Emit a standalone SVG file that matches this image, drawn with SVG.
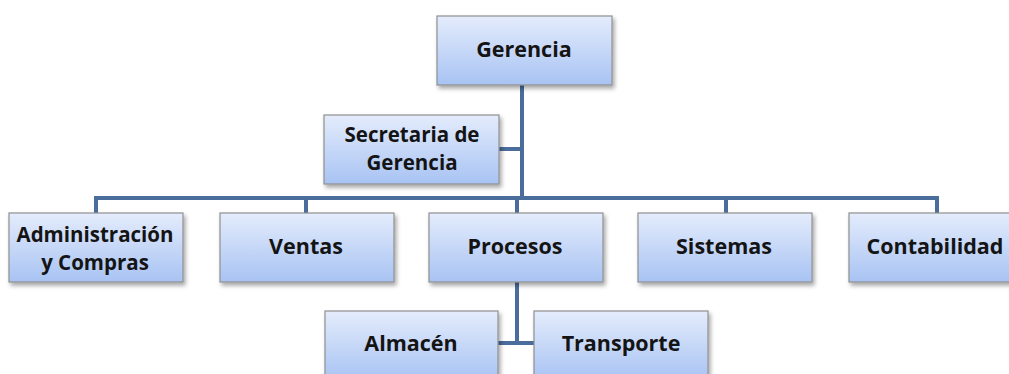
<svg xmlns="http://www.w3.org/2000/svg" width="1009" height="374" viewBox="0 0 1009 374">
<defs>
<linearGradient id="g" x1="0" y1="0" x2="0" y2="1">
<stop offset="0" stop-color="#e4ecfc"/>
<stop offset="1" stop-color="#a8c3f3"/>
</linearGradient>
<filter id="sh" x="-10%" y="-10%" width="130%" height="140%">
<feDropShadow dx="2" dy="3" stdDeviation="2" flood-color="#000" flood-opacity="0.35"/>
</filter>
</defs>
<style>
.box{fill:url(#g);stroke:#8f8f8f;stroke-width:1.2;filter:url(#sh)}
.t{font-family:"Open Sans","Noto Sans",sans-serif;font-weight:bold;font-size:21.5px;fill:#141414;text-anchor:middle}
.t2{font-size:20.5px}
.c{fill:none;stroke:#4a6d9c;stroke-width:4}
</style>
<rect width="1009" height="374" fill="#fff"/>
<g id="connectors">
<path class="c" d="M522 85 V198"/>
<path class="c" d="M499 149 H522"/>
<path class="c" d="M96 213 V198 H937 V213"/>
<path class="c" d="M306 198 V213"/>
<path class="c" d="M517 198 V213"/>
<path class="c" d="M726 198 V213"/>
<path class="c" d="M517 281 V343"/>
<path class="c" d="M498 343 H534"/>
</g>
<g id="gerencia"><rect class="box" x="437" y="16" width="175" height="69"/><text class="t" x="524" y="57">Gerencia</text></g>
<g id="secretaria"><rect class="box" x="324" y="115" width="175" height="69"/><text class="t t2" x="412" y="142">Secretaria de</text><text class="t t2" x="412" y="170">Gerencia</text></g>
<g id="administracion"><rect class="box" x="9" y="213" width="174" height="69"/><text class="t t2" x="95" y="242">Administración</text><text class="t t2" x="95" y="270">y Compras</text></g>
<g id="ventas"><rect class="box" x="220" y="213" width="174" height="69"/><text class="t" x="306" y="254">Ventas</text></g>
<g id="procesos"><rect class="box" x="429" y="213" width="174" height="69"/><text class="t" x="515" y="254">Procesos</text></g>
<g id="sistemas"><rect class="box" x="638" y="213" width="174" height="69"/><text class="t" x="724" y="254">Sistemas</text></g>
<g id="contabilidad"><rect class="box" x="849" y="213" width="174" height="69"/><text class="t" x="935" y="254">Contabilidad</text></g>
<g id="almacen"><rect class="box" x="325" y="311" width="173" height="69"/><text class="t" x="411" y="351">Almacén</text></g>
<g id="transporte"><rect class="box" x="534" y="311" width="174" height="69"/><text class="t" x="621" y="351">Transporte</text></g>
</svg>
